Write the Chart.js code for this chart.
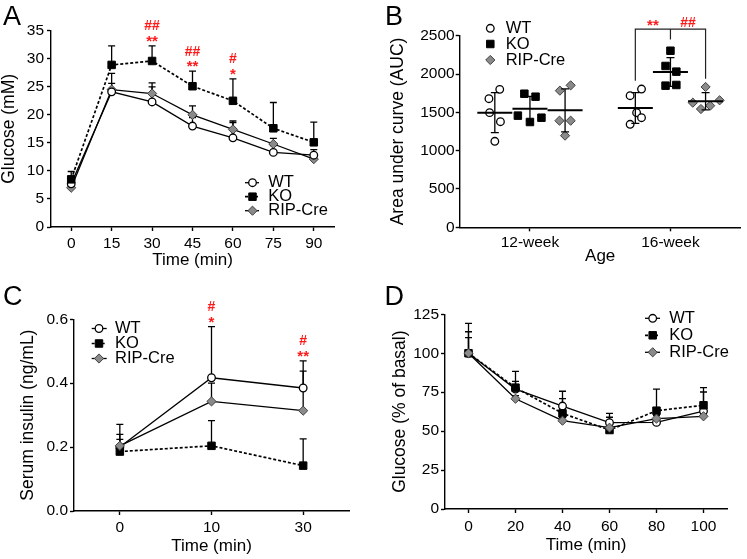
<!DOCTYPE html>
<html><head><meta charset="utf-8">
<script src="https://cdn.jsdelivr.net/npm/chart.js@4.4.1/dist/chart.umd.min.js"></script>
<style>
html,body{margin:0;padding:0;background:#fff;}
#wrap{position:relative;width:747px;height:559px;overflow:hidden;}
canvas{position:absolute;}
</style></head><body>
<div id="wrap">
<canvas id="cA" width="373" height="280" style="left:0;top:0"></canvas>
<canvas id="cB" width="374" height="280" style="left:373px;top:0"></canvas>
<canvas id="cC" width="373" height="279" style="left:0;top:280px"></canvas>
<canvas id="cD" width="374" height="279" style="left:373px;top:280px"></canvas>
</div>
<script>
// ================= DATA =================
const seriesNames = ['WT', 'KO', 'RIP-Cre'];

// Panel A: glucose tolerance
const timeA = ['0', '15', '30', '45', '60', '75', '90'];
const yTicksA = [0, 5, 10, 15, 20, 25, 30, 35];
const glucoseWT  = [7.7, 24.1, 22.3, 18.0, 15.9, 13.3, 12.8];
const glucoseKO  = [8.5, 28.9, 29.6, 25.1, 22.5, 17.6, 15.1];
const glucoseRIP = [7.0, 24.5, 23.8, 20.0, 17.4, 14.8, 12.1];
const glucoseErrWT  = [1.0, 1.5, 2.7, 1.5, 2.7, 1.2, 1.0];
const glucoseErrKO  = [1.4, 3.4, 2.7, 2.7, 3.9, 4.6, 3.6];
const glucoseErrRIP = [1.0, 2.9, 1.9, 1.6, 1.5, 1.0, 0.8];
const sigHashA = ['', '', '##', '##', '#', '', ''];
const sigStarA = ['', '', '**', '**', '*', '', ''];

// Panel B: AUC scatter
const ages = ['12-week', '16-week'];
const yTicksB = [0, 500, 1000, 1500, 2000, 2500];
const aucWT  = [[1800, 1678, 1496, 1378, 1122], [1717, 1804, 1495, 1430, 1344]];
const aucKO  = [[1743, 1704, 1457, 1430, 1374], [2304, 2105, 2031, 1848, 1857]];
const aucRIP = [[1783, 1852, 1391, 1391, 1196], [1831, 1626, 1657, 1543, 1587]];
const aucMeanWT  = [1496, 1557];
const aucMeanKO  = [1548, 2026];
const aucMeanRIP = [1526, 1644];
const aucSdWT  = [260, 200];
const aucSdKO  = [160, 188];
const aucSdRIP = [280, 113];
const bracketLabels = ['**', '##'];

// Panel C: serum insulin
const timeC = ['0', '10', '30'];
const yTicksC = [0, 0.2, 0.4, 0.6];
const insulinWT  = [0.200, 0.417, 0.385];
const insulinKO  = [0.186, 0.204, 0.142];
const insulinRIP = [0.204, 0.343, 0.314];
const insulinErrWT  = [0.040, 0.160, 0.085];
const insulinErrKO  = [0.085, 0.079, 0.084];
const insulinErrRIP = [0.020, 0.057, 0.124];
const sigHashC = ['', '#', '#'];
const sigStarC = ['', '*', '**'];

// Panel D: insulin tolerance (% of basal)
const timeD = ['0', '20', '40', '60', '80', '100'];
const yTicksD = [0, 25, 50, 75, 100, 125];
const itWT  = [100, 77.0, 66.1, 55.4, 55.6, 62.9];
const itKO  = [100, 77.9, 61.4, 50.7, 63.1, 66.6];
const itRIP = [100, 70.8, 56.7, 52.2, 58.0, 59.5];
const itErrWT  = [13.8, 5.0, 9.5, 6.0, 2.0, 12.2];
const itErrKO  = [19.2, 10.5, 9.4, 8.2, 13.9, 11.3];
const itErrRIP = [10.0, 2.0, 2.0, 2.0, 2.0, 2.0];

// ================= STYLE / LAYOUT =================
const FONT = '"Liberation Sans", Arial, Helvetica, sans-serif';
const SIGRED = '#ff1a1a';
const TICK_FS = 15.5, XT_FS = 17, YT_FS = 17.5, LEG_FS = 16.5;
Chart.defaults.font.family = FONT;
Chart.defaults.color = '#000';

const STY = {
  WT:  {style: 'circle',  r: 3.8, fill: '#ffffff', stroke: '#000', bw: 1.3, lw: 1.3, dash: []},
  KO:  {style: 'rect',    r: 5.3, fill: '#000000', stroke: '#000', bw: 1.0, lw: 1.7, dash: [3, 2]},
  RIP: {style: 'rectRot', r: 4.6, fill: '#8a8a8a', stroke: '#404040', bw: 1.0, lw: 1.3, dash: []}
};
const KEYS = ['WT', 'KO', 'RIP'];

// B layout: group offsets and jitter (pixels) within each group
const B_PX_PER_UNIT = 143.1;
const B_GROUP_OFF = [-0.25, 0, 0.25];
const B_JITTER = [
  [[5, -6, -5.3, 5.7, 0], [-5.3, 6.3, 1.3, 6.3, -5.3]],
  [[-5.7, 5.7, -12.3, 11.7, 0], [0, -5, 6, -5, 6]],
  [[-5.3, 5.7, -5.7, 5.7, 0], [0, -13, 14.3, -4.7, 4.7]]
];

function marker(ctx, s, x, y) {
  ctx.save();
  ctx.beginPath();
  if (s.style === 'circle') ctx.arc(x, y, s.r, 0, Math.PI * 2);
  else if (s.style === 'rect') { const h = s.r * Math.SQRT1_2; ctx.rect(x - h, y - h, 2 * h, 2 * h); }
  else { ctx.moveTo(x, y - s.r); ctx.lineTo(x + s.r, y); ctx.lineTo(x, y + s.r); ctx.lineTo(x - s.r, y); ctx.closePath(); }
  ctx.fillStyle = s.fill; ctx.fill();
  ctx.setLineDash([]); ctx.lineWidth = s.bw; ctx.strokeStyle = s.stroke; ctx.stroke();
  ctx.restore();
}

const PANEL = {};

const decor = {
  id: 'decor',
  beforeDatasetsDraw(chart) {
    const P = PANEL[chart.canvas.id]; if (!P || !P.errorBars) return;
    const ctx = chart.ctx, xs = chart.scales.x, ys = chart.scales.y;
    ctx.save(); ctx.strokeStyle = '#000'; ctx.lineWidth = 1.3; ctx.setLineDash([]);
    chart.data.datasets.forEach(ds => {
      ds.data.forEach((v, i) => {
        const e = ds.err[i]; if (!e) return;
        const x = xs.getPixelForValue(i), y0 = ys.getPixelForValue(v), y1 = ys.getPixelForValue(v + e);
        ctx.beginPath(); ctx.moveTo(x, y0); ctx.lineTo(x, y1);
        ctx.moveTo(x - 3.5, y1); ctx.lineTo(x + 3.5, y1); ctx.stroke();
      });
    });
    ctx.restore();
  },
  afterDatasetsDraw(chart) {
    const P = PANEL[chart.canvas.id]; if (!P || !P.meanSd) return;
    const ctx = chart.ctx, xs = chart.scales.x, ys = chart.scales.y;
    ctx.save(); ctx.strokeStyle = '#000'; ctx.setLineDash([]);
    P.meanSd.forEach((grp, g) => {
      ages.forEach((a, ai) => {
        const cx = xs.getPixelForValue(ai + 1 + B_GROUP_OFF[g]);
        const m = grp.mean[ai], sd = grp.sd[ai];
        const yt = ys.getPixelForValue(m + sd), yb = ys.getPixelForValue(m - sd), ym = ys.getPixelForValue(m);
        ctx.lineWidth = 1.3;
        ctx.beginPath(); ctx.moveTo(cx, yt); ctx.lineTo(cx, yb);
        ctx.moveTo(cx - 4, yt); ctx.lineTo(cx + 4, yt);
        ctx.moveTo(cx - 4, yb); ctx.lineTo(cx + 4, yb); ctx.stroke();
        ctx.lineWidth = 2;
        ctx.beginPath(); ctx.moveTo(cx - 17.5, ym); ctx.lineTo(cx + 17.5, ym); ctx.stroke();
      });
    });
    ctx.restore();
  },
  afterDraw(chart) {
    const P = PANEL[chart.canvas.id]; if (!P) return;
    const ctx = chart.ctx, xs = chart.scales.x, ys = chart.scales.y;
    ctx.save();
    // panel letter
    ctx.font = '27px ' + FONT; ctx.fillStyle = '#000'; ctx.textAlign = 'left'; ctx.textBaseline = 'alphabetic';
    ctx.fillText(P.letter, P.letterX, 25);
    // legend
    const L = P.legend;
    ctx.font = LEG_FS + 'px ' + FONT; ctx.textBaseline = 'middle';
    KEYS.forEach((k, i) => {
      const s = STY[k], y = L.ys[i];
      if (L.line) {
        ctx.beginPath(); ctx.setLineDash(s.dash); ctx.lineWidth = s.lw; ctx.strokeStyle = '#000';
        ctx.moveTo(L.x0, y); ctx.lineTo(L.x1, y); ctx.stroke(); ctx.setLineDash([]);
      }
      marker(ctx, s, L.mx, y);
      ctx.fillStyle = '#000';
      ctx.fillText(seriesNames[i], L.tx, y);
    });
    // significance marks
    if (P.sig) {
      ctx.fillStyle = SIGRED; ctx.textAlign = 'center'; ctx.textBaseline = 'alphabetic';
      P.sig.star.forEach((st, i) => {
        const hs = P.sig.hash[i];
        if (!st && !hs) return;
        let top = Infinity;
        chart.data.datasets.forEach(ds => {
          top = Math.min(top, ys.getPixelForValue(ds.data[i] + (ds.err[i] || 0)));
        });
        const x = xs.getPixelForValue(i);
        ctx.font = 'bold 15px ' + FONT;
        if (st) ctx.fillText(st, x, top - 8.5 + 0.57 * 15);
        ctx.font = 'bold 14px ' + FONT;
        if (hs) ctx.fillText(hs, x, top - 20.5 + 0.36 * 14);
      });
    }
    // bracket (panel B)
    if (P.bracket) {
      const b = P.bracket;
      const xsP = [0, 1, 2].map(g => xs.getPixelForValue(b.age + 1 + B_GROUP_OFF[g]));
      const yTop = ys.getPixelForValue(b.top);
      const yLeg = b.legs.map(v => ys.getPixelForValue(v));
      ctx.strokeStyle = '#222'; ctx.lineWidth = 1.2; ctx.setLineDash([]);
      ctx.beginPath();
      ctx.moveTo(xsP[0], yLeg[0]); ctx.lineTo(xsP[0], yTop); ctx.lineTo(xsP[2], yTop); ctx.lineTo(xsP[2], yLeg[2]);
      ctx.moveTo(xsP[1], yTop); ctx.lineTo(xsP[1], yLeg[1]);
      ctx.stroke();
      ctx.fillStyle = SIGRED; ctx.textAlign = 'center'; ctx.textBaseline = 'alphabetic';
      ctx.font = 'bold 15px ' + FONT;
      ctx.fillText(bracketLabels[0], (xsP[0] + xsP[1]) / 2, yTop - 7.6 + 0.57 * 15);
      ctx.font = 'bold 14px ' + FONT;
      ctx.fillText(bracketLabels[1], (xsP[1] + xsP[2]) / 2, yTop - 7.6 + 0.36 * 14);
    }
    ctx.restore();
  }
};
Chart.register(decor);

function axisCommon() {
  return {
    grid: {display: true, drawOnChartArea: false, drawTicks: true, tickLength: 4, tickWidth: 1.4, tickColor: '#000', offset: false},
    border: {display: true, color: '#000', width: 1.4}
  };
}
function yAxis(ticks, title, width, titlePad, tickPad, fmt) {
  return Object.assign(axisCommon(), {
    type: 'linear', min: ticks[0], max: ticks[ticks.length - 1],
    afterBuildTicks: s => { s.ticks = ticks.map(v => ({value: v})); },
    afterFit: s => { s.width = width; },
    ticks: {color: '#000', font: {family: FONT, size: TICK_FS, lineHeight: 1}, padding: tickPad,
            callback: fmt || (v => String(v))},
    title: {display: true, text: title, color: '#000', font: {family: FONT, size: YT_FS, lineHeight: 1},
            padding: {top: titlePad, bottom: 0}}
  });
}
function xCatAxis(height, tickPad, titlePad, title) {
  return Object.assign(axisCommon(), {
    type: 'category', offset: true,
    afterFit: s => { s.height = height; },
    ticks: {color: '#000', font: {family: FONT, size: TICK_FS, lineHeight: 1}, padding: tickPad, maxRotation: 0, autoSkip: false},
    title: {display: true, text: title, color: '#000', font: {family: FONT, size: XT_FS, lineHeight: 1},
            padding: {top: 0, bottom: titlePad}}
  });
}
function lineDs(i, data, err, order) {
  const s = STY[KEYS[i]];
  return {label: seriesNames[i], data, err, order,
    borderColor: '#000', borderWidth: s.lw, borderDash: s.dash,
    backgroundColor: s.fill, pointBackgroundColor: s.fill, pointBorderColor: s.stroke,
    pointBorderWidth: s.bw, pointStyle: s.style, pointRadius: s.r, pointHoverRadius: s.r,
    tension: 0, fill: false, clip: false};
}
function baseOpts(pad) {
  return {
    responsive: false, animation: false, devicePixelRatio: 1,
    layout: {padding: pad},
    plugins: {legend: {display: false}, tooltip: {enabled: false}},
    events: []
  };
}

// ---------- Panel A ----------
PANEL.cA = {letter: 'A', letterX: 3, errorBars: true,
  legend: {line: true, x0: 245, x1: 259, mx: 252.5, tx: 268.3, ys: [182.7, 196.7, 210.7]},
  sig: {hash: sigHashA, star: sigStarA}};
new Chart(document.getElementById('cA'), {
  type: 'line',
  data: {labels: timeA, datasets: [
    lineDs(0, glucoseWT, glucoseErrWT, 1),
    lineDs(1, glucoseKO, glucoseErrKO, 0),
    lineDs(2, glucoseRIP, glucoseErrRIP, 2)]},
  options: Object.assign(baseOpts({top: 30.7, right: 39, left: 0, bottom: 0}), {
    scales: {
      x: xCatAxis(53, 4.55, 11.5, 'Time (min)'),
      y: yAxis(yTicksA, 'Glucose (mM)', 51, 0, 3)
    }})
});

// ---------- Panel B ----------
PANEL.cB = {letter: 'B', letterX: 12,
  legend: {line: false, mx: 117.3, tx: 132.7, ys: [28.3, 44, 60]},
  meanSd: [{mean: aucMeanWT, sd: aucSdWT}, {mean: aucMeanKO, sd: aucSdKO}, {mean: aucMeanRIP, sd: aucSdRIP}],
  bracket: {age: 1, top: 2585, legs: [1913, 2452, 1939]}};
const groupsB = [aucWT, aucKO, aucRIP];
const dsB = groupsB.map((grp, g) => {
  const s = STY[KEYS[g]];
  const pts = [];
  grp.forEach((vals, ai) => vals.forEach((v, k) => {
    pts.push({x: ai + 1 + B_GROUP_OFF[g] + B_JITTER[g][ai][k] / B_PX_PER_UNIT, y: v});
  }));
  return {label: seriesNames[g], data: pts, showLine: false,
    backgroundColor: s.fill, pointBackgroundColor: s.fill, pointBorderColor: s.stroke,
    pointBorderWidth: s.bw, pointStyle: s.style, pointRadius: s.r, pointHoverRadius: s.r, clip: false};
});
new Chart(document.getElementById('cB'), {
  type: 'scatter',
  data: {datasets: dsB},
  options: Object.assign(baseOpts({top: 35.7, right: 1, left: 0, bottom: 0}), {
    scales: {
      x: Object.assign(axisCommon(), {
        type: 'linear', min: 0.5, max: ages.length + 0.5,
        afterBuildTicks: s => { s.ticks = ages.map((a, i) => ({value: i + 1})); },
        afterFit: s => { s.height = 52.7; },
        ticks: {color: '#000', font: {family: FONT, size: TICK_FS, lineHeight: 1}, padding: 3.65, maxRotation: 0,
                callback: v => ages[Math.round(v) - 1]},
        title: {display: true, text: 'Age', color: '#000', font: {family: FONT, size: XT_FS, lineHeight: 1},
                padding: {top: 0, bottom: 14.8}}
      }),
      y: yAxis(yTicksB, 'Area under curve (AUC)', 86.7, 16.25, 1)
    }})
});

// ---------- Panel C ----------
PANEL.cC = {letter: 'C', letterX: 3, errorBars: true,
  legend: {line: true, x0: 91.7, x1: 106.7, mx: 99, tx: 115, ys: [48.5, 63.5, 78.5]},
  sig: {hash: sigHashC, star: sigStarC}};
new Chart(document.getElementById('cC'), {
  type: 'line',
  data: {labels: timeC, datasets: [
    lineDs(0, insulinWT, insulinErrWT, 2),
    lineDs(1, insulinKO, insulinErrKO, 1),
    lineDs(2, insulinRIP, insulinErrRIP, 0)]},
  options: Object.assign(baseOpts({top: 39.3, right: 24, left: 0, bottom: 0}), {
    scales: {
      x: xCatAxis(48, 5.25, 3.8, 'Time (min)'),
      y: yAxis(yTicksC, 'Serum insulin (ng/mL)', 74, 19.25, 2, v => Number(v).toFixed(1))
    }})
});

// ---------- Panel D ----------
PANEL.cD = {letter: 'D', letterX: 11.5, errorBars: true,
  legend: {line: true, x0: 272, x1: 287, mx: 279.7, tx: 296.3, ys: [38.3, 55.3, 72.3]}};
new Chart(document.getElementById('cD'), {
  type: 'line',
  data: {labels: timeD, datasets: [
    lineDs(0, itWT, itErrWT, 2),
    lineDs(1, itKO, itErrKO, 1),
    lineDs(2, itRIP, itErrRIP, 0)]},
  options: Object.assign(baseOpts({top: 34.3, right: 20, left: 0, bottom: 0}), {
    scales: {
      x: xCatAxis(50, 5.95, 5.5, 'Time (min)'),
      y: yAxis(yTicksD, 'Glucose (% of basal)', 72, 18.25, 2)
    }})
});
</script>
</body></html>
